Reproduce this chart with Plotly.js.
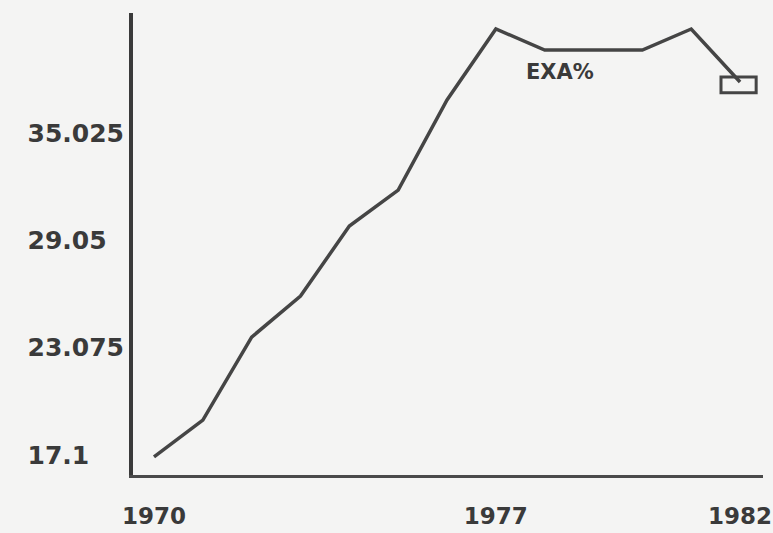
<!DOCTYPE html>
<html>
<head>
<meta charset="utf-8">
<script src="https://cdn.plot.ly/plotly-3.0.1.min.js"></script>
<style>
  html, body { margin: 0; padding: 0; background: #f4f4f3; }
  #chart { width: 773px; height: 533px; }
</style>
</head>
<body>
<div id="chart"></div>
<script>
// ---- data ----
const years = [1970, 1971, 1972, 1973, 1974, 1975, 1976, 1977, 1978, 1979, 1980, 1981, 1982];
const exaPct = [17.0, 19.05, 23.67, 25.95, 29.85, 31.85, 36.87, 40.82, 39.65, 39.65, 39.65, 40.82, 37.87];
const yTickVals = [17.1, 23.075, 29.05, 35.025];
const yTickText = ["17.1", "23.075", "29.05", "35.025"];
const xTickVals = [1970, 1977, 1982];
const xTickText = ["1970", "1977", "1982"];
const seriesLabel = "EXA%";

const ink = "#3a3a3a";

// left-align the y labels by padding with figure spaces
const maxLen = Math.max(...yTickText.map(t => t.length));
const yTickPadded = yTickText.map(t => t + "\u2007".repeat(maxLen - t.length));

const lastX = years[years.length - 1];
const lastY = exaPct[exaPct.length - 1];

const trace = {
  x: years,
  y: exaPct,
  type: "scatter",
  mode: "lines",
  line: { color: "#454545", width: 3.5, shape: "linear" },
  hoverinfo: "skip",
  showlegend: false
};

const layout = {
  width: 773,
  height: 533,
  margin: { l: 133, r: 10, t: 13, b: 58, pad: 0 },
  paper_bgcolor: "#f4f4f3",
  plot_bgcolor: "#f4f4f3",
  font: { family: "DejaVu Sans, sans-serif", size: 24, color: ink },
  showlegend: false,
  xaxis: {
    range: [1969.57, 1982.47],
    tickmode: "array",
    tickvals: xTickVals,
    ticktext: xTickText,
    ticks: "",
    showgrid: false,
    zeroline: false,
    showline: true,
    linecolor: "#4a4a4a",
    linewidth: 3,
    tickfont: { family: "DejaVu Sans, sans-serif", size: 23, color: ink, weight: "bold" },
    ticklabelstandoff: 18,
    ticklabelshift: 0,
    ticklabeloverflow: "allow",
    automargin: false,
    fixedrange: true
  },
  yaxis: {
    range: [15.99, 41.71],
    tickmode: "array",
    tickvals: yTickVals,
    ticktext: yTickPadded,
    ticks: "",
    showgrid: false,
    zeroline: false,
    showline: true,
    linecolor: "#3a3a3a",
    linewidth: 4,
    tickfont: { family: "DejaVu Sans, sans-serif", size: 25, color: ink, weight: "bold" },
    ticklabelstandoff: 0,
    automargin: false,
    fixedrange: true
  },
  shapes: [
    {
      type: "rect",
      xref: "x", yref: "y",
      x0: lastX - 0.39, x1: lastX + 0.33,
      y0: lastY - 0.6, y1: lastY + 0.28,
      line: { color: "#454545", width: 3 },
      fillcolor: "rgba(0,0,0,0)"
    }
  ],
  annotations: [
    {
      x: 1978.31, y: 38.43,
      xref: "x", yref: "y",
      text: seriesLabel,
      showarrow: false,
      font: { family: "DejaVu Sans, sans-serif", size: 21, color: ink, weight: "bold" },
      xanchor: "center", yanchor: "middle"
    }
  ]
};

Plotly.newPlot("chart", [trace], layout, { staticPlot: true, displayModeBar: false });
</script>
</body>
</html>
